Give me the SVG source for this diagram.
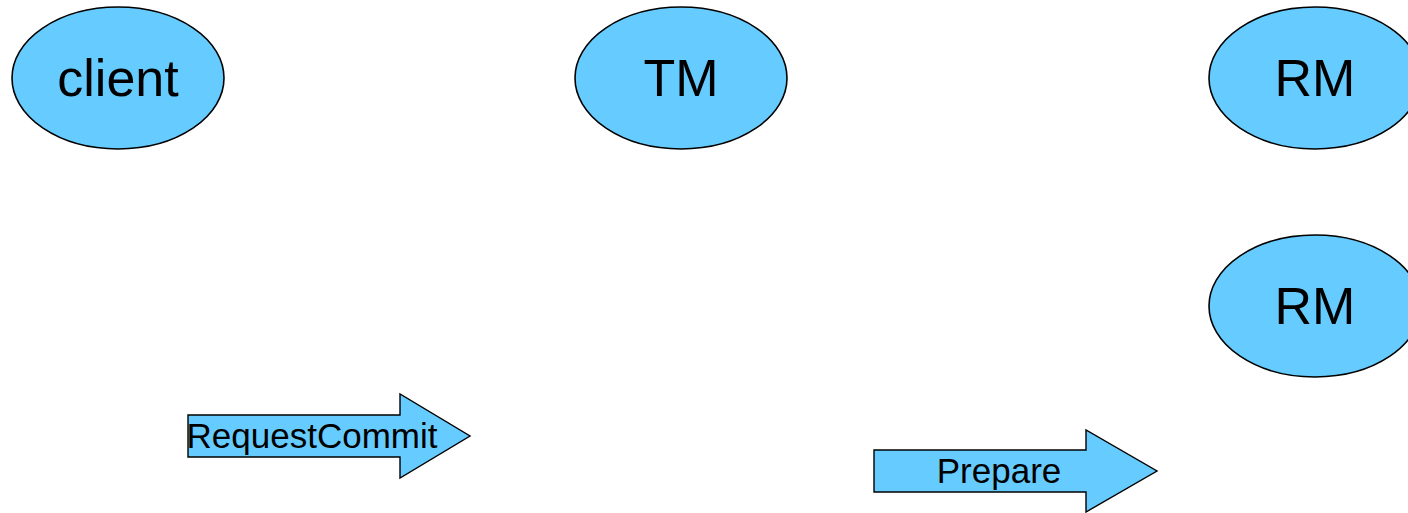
<svg xmlns="http://www.w3.org/2000/svg" width="1408" height="513" viewBox="0 0 1408 513">
  <style>
    .node { fill: #66ccff; stroke: #000; stroke-width: 1.6; }
    .big { font-family: "Liberation Sans", Arial, sans-serif; font-size: 52px; fill: #000; text-anchor: middle; }
    .msg { fill: #66ccff; stroke: #000; stroke-width: 1.4; stroke-linejoin: miter; }
    .lbl { font-family: "Liberation Sans", Arial, sans-serif; font-size: 35px; fill: #000; text-anchor: middle; }
  </style>
  <rect width="1408" height="513" fill="#fff"/>

  <g id="client">
    <ellipse class="node" cx="118" cy="78" rx="106" ry="71"/>
    <text class="big" x="118" y="96">client</text>
  </g>
  <g id="tm">
    <ellipse class="node" cx="681" cy="78" rx="106" ry="71"/>
    <text class="big" x="681" y="96">TM</text>
  </g>
  <g id="rm1">
    <ellipse class="node" cx="1315" cy="78" rx="106" ry="71"/>
    <text class="big" x="1315" y="96">RM</text>
  </g>
  <g id="rm2">
    <ellipse class="node" cx="1315" cy="306" rx="106" ry="71"/>
    <text class="big" x="1315" y="324">RM</text>
  </g>

  <g id="connectors">
    <g id="request-commit">
      <polygon class="msg" points="188,415 400,415 400,394 470,436 400,478 400,457 188,457"/>
      <text class="lbl" x="312" y="448">RequestCommit</text>
    </g>
    <g id="prepare">
      <polygon class="msg" points="874,450 1086,450 1086,430 1157,471 1086,512 1086,492 874,492"/>
      <text class="lbl" x="999" y="483">Prepare</text>
    </g>
  </g>
</svg>
